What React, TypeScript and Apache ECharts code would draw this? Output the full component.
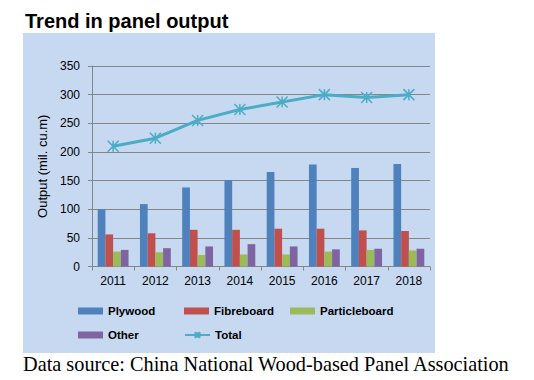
import React, { useEffect, useRef } from "react";
import * as echarts from "echarts";

const years = ["2011", "2012", "2013", "2014", "2015", "2016", "2017", "2018"];
const plywood = [100, 109, 138, 151, 165, 178, 172, 179];
const fibreboard = [56, 58, 64, 64, 66, 66, 63, 62];
const particleboard = [26, 25, 20, 21, 21, 26, 29, 28];
const other = [29, 32, 35, 39, 35, 30, 31, 31];
const total = [210, 224, 255, 274, 287, 300, 295, 300];

const FONT = "'Liberation Sans', Arial, sans-serif";
const STAR = "path://M5,0L5,10M0,0L10,10M0,10L10,0";

export default function App() {
  const ref = useRef<HTMLDivElement>(null);
  useEffect(() => {
    if (!ref.current) return;
    const chart = echarts.init(ref.current, null, { renderer: "svg" });
    const legendBase = {
      itemWidth: 25,
      itemHeight: 7,
      padding: 0,
      textStyle: { fontFamily: FONT, fontSize: 11.5, fontWeight: "bold", color: "#000" },
      selectedMode: false,
    };
    chart.setOption({
      animation: false,
      graphic: [
        {
          type: "rect",
          z: -10,
          silent: true,
          shape: { x: 23, y: 33, width: 412, height: 320 },
          style: { fill: "#c6d9f1" },
        },
        {
          type: "text",
          x: 25,
          y: 11,
          style: {
            text: "Trend in panel output",
            font: `bold 20px ${FONT}`,
            fill: "#000",
            verticalAlign: "top",
          },
        },
        {
          type: "text",
          x: 23,
          y: 354,
          style: {
            text: "Data source: China National Wood-based Panel Association",
            font: "20.3px 'Liberation Serif', 'Times New Roman', serif",
            fill: "#000",
            verticalAlign: "top",
          },
        },
      ],
      legend: [
        { ...legendBase, left: 78, top: 305, data: [{ name: "Plywood", icon: "rect" }] },
        { ...legendBase, left: 184, top: 305, data: [{ name: "Fibreboard", icon: "rect" }] },
        { ...legendBase, left: 290, top: 305, data: [{ name: "Particleboard", icon: "rect" }] },
        { ...legendBase, left: 78, top: 329, data: [{ name: "Other", icon: "rect" }] },
        { ...legendBase, left: 184, top: 329, data: ["Total"] },
      ],
      grid: { left: 92, top: 66, width: 338, height: 200.5 },
      xAxis: {
        type: "category",
        data: years,
        boundaryGap: true,
        axisLine: { lineStyle: { color: "#868686", width: 1 } },
        axisTick: { show: true, length: 4, lineStyle: { color: "#868686" } },
        axisLabel: { fontFamily: FONT, fontSize: 12, color: "#000", margin: 8 },
      },
      yAxis: {
        type: "value",
        min: 0,
        max: 350,
        interval: 50,
        name: "Output (mil. cu.m)",
        nameLocation: "middle",
        nameGap: 32,
        nameTextStyle: { fontFamily: FONT, fontSize: 13, color: "#000" },
        axisLine: { show: true, lineStyle: { color: "#868686", width: 1 } },
        axisTick: { show: true, length: 4, lineStyle: { color: "#868686" } },
        axisLabel: { fontFamily: FONT, fontSize: 12, color: "#000", margin: 12 },
        splitLine: { show: true, lineStyle: { color: "#868686", width: 1 } },
      },
      series: [
        { name: "Plywood", type: "bar", data: plywood, itemStyle: { color: "#4f81bd" }, barGap: "0%", barCategoryGap: "27%" },
        { name: "Fibreboard", type: "bar", data: fibreboard, itemStyle: { color: "#c0504d" } },
        { name: "Particleboard", type: "bar", data: particleboard, itemStyle: { color: "#9bbb59" } },
        { name: "Other", type: "bar", data: other, itemStyle: { color: "#8064a2" } },
        {
          name: "Total",
          type: "line",
          data: total,
          symbol: STAR,
          symbolSize: 11,
          lineStyle: { color: "#4bacc6", width: 3 },
          itemStyle: { color: "#4bacc6", borderColor: "#4bacc6", borderWidth: 1.5 },
          z: 5,
        },
      ],
    });
    return () => chart.dispose();
  }, []);
  return (
    <div
      ref={ref}
      style={{ position: "absolute", left: 0, top: 0, width: 534, height: 380, background: "#fff" }}
    />
  );
}
